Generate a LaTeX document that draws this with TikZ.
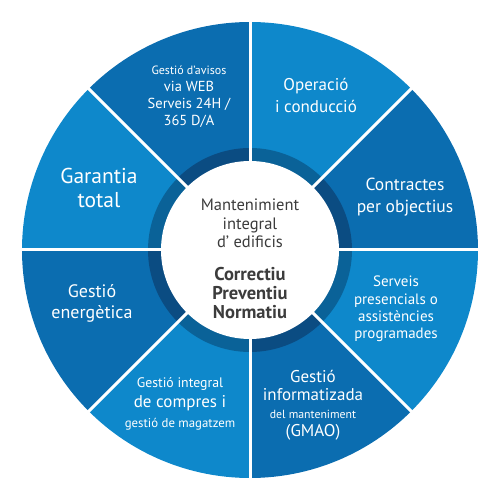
\documentclass[tikz,border=0pt]{standalone}
\usepackage{fontspec}
\setmainfont{PT Sans}
\usepackage{tikz}
\usetikzlibrary{calc}

\definecolor{ltblue}{HTML}{0E88CB}
\definecolor{dkblue}{HTML}{0B6DB0}
\definecolor{ringlt}{HTML}{0A6298}
\definecolor{ringdk}{HTML}{0B4C82}
\definecolor{centretext}{HTML}{3C3C3C}

\tikzset{
  sectortext/.style={text=white, align=center, inner sep=0pt},
  centre/.style={text=centretext, align=center, inner sep=0pt}
}

\begin{document}
\begin{tikzpicture}
  \useasboundingbox (-250pt,-250pt) rectangle (250pt,250pt);

  % Sectors and inner ring
  \foreach \a/\c/\r in {0/dkblue/ringdk,45/ltblue/ringlt,90/dkblue/ringdk,135/ltblue/ringlt,
                         180/dkblue/ringdk,225/ltblue/ringlt,270/dkblue/ringdk,315/ltblue/ringlt} {
    \fill[\c] (0,0) -- (\a:228pt) arc[start angle=\a, end angle=\a+45, radius=228pt] -- cycle;
    \fill[\r] (0,0) -- (\a:102pt) arc[start angle=\a, end angle=\a+45, radius=102pt] -- cycle;
  }

  % White separators
  \foreach \a in {0,45,...,315} {
    \draw[white, line width=3pt] (0,0) -- (\a:232pt);
  }

  % Centre
  \fill[white] (0,0) circle[radius=89pt];
  \node[centre, font=\fontsize{16.5}{18.5}\selectfont] (mant) at (0pt,26.5pt)
    {Mantenimient\\integral\\d’ edificis};
  \node[centre, font=\fontsize{18.5}{19}\selectfont\bfseries] (tipus) at (0pt,-43pt)
    {Correctiu\\Preventiu\\Normatiu};

  % Sector labels
  \node[sectortext, font=\fontsize{14.5}{17}\selectfont] (avisos) at (-61pt,153.5pt)
    {{\fontsize{12}{17}\selectfont Gestió d’avisos}\\
     via WEB\\
     Serveis 24H /\\
     365 D/A};
  \node[sectortext, font=\fontsize{17}{22}\selectfont] (operacio) at (66pt,155pt)
    {Operació\\i conducció};
  \node[sectortext, font=\fontsize{17.5}{22}\selectfont] (contractes) at (155pt,53pt)
    {Contractes\\per objectius};
  \node[sectortext, font=\fontsize{15}{17.3}\selectfont] (presencials) at (146pt,-59pt)
    {Serveis\\presencials o\\assistències\\programades};
  \node[sectortext, font=\fontsize{17}{18}\selectfont] (gmao) at (63pt,-155pt)
    {Gestió\\
     informatizada\\
     {\fontsize{11.8}{18}\selectfont del manteniment}\\
     (GMAO)};
  \node[sectortext, font=\fontsize{17}{20}\selectfont] (compres) at (-70pt,-154pt)
    {{\fontsize{13.8}{20}\selectfont Gestió integral}\\
     de compres i\\
     {\fontsize{12.8}{20}\selectfont gestió de magatzem}};
  \node[sectortext, font=\fontsize{18}{21}\selectfont] (energetica) at (-158pt,-53pt)
    {Gestió\\energètica};
  \node[sectortext, font=\fontsize{21.5}{24}\selectfont] (garantia) at (-151pt,62pt)
    {Garantia\\total};
\end{tikzpicture}
\end{document}
